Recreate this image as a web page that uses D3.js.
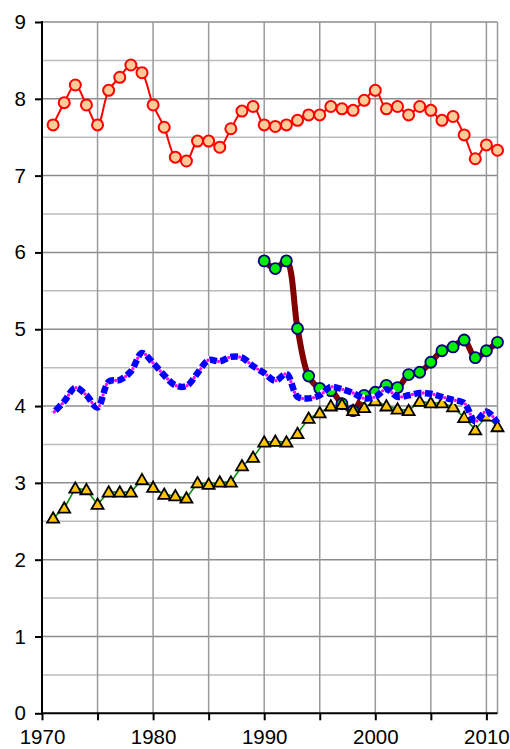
<!DOCTYPE html>
<html>
<head>
<meta charset="utf-8">
<script src="https://cdn.jsdelivr.net/npm/d3@7"></script>
<style>
  body { margin: 0; background: #fff; }
  svg text { font-family: "Liberation Sans", Arial, sans-serif; }
</style>
</head>
<body>
<div id="chart"></div>
<script>
// yearly values
var years = d3.range(1971, 2012);

var redValues = [7.66, 7.95, 8.18, 7.92, 7.66, 8.11, 8.28, 8.44, 8.34, 7.92,
  7.63, 7.24, 7.19, 7.45, 7.45, 7.37, 7.61, 7.84, 7.90, 7.66,
  7.64, 7.66, 7.72, 7.79, 7.79, 7.90, 7.87, 7.85, 7.98, 8.11,
  7.87, 7.90, 7.79, 7.90, 7.85, 7.72, 7.77, 7.53, 7.22, 7.40, 7.33];

var blueValues = [3.91, 4.06, 4.24, 4.14, 3.98, 4.32, 4.34, 4.45, 4.69, 4.56,
  4.40, 4.27, 4.26, 4.43, 4.60, 4.58, 4.64, 4.63, 4.52, 4.43,
  4.33, 4.42, 4.12, 4.10, 4.14, 4.25, 4.22, 4.17, 4.10, 4.12,
  4.22, 4.12, 4.14, 4.17, 4.16, 4.12, 4.08, 4.04, 3.80, 3.93, 3.78];

var triangleValues = [2.54, 2.67, 2.93, 2.91, 2.72, 2.88, 2.88, 2.88, 3.04, 2.94,
  2.85, 2.83, 2.80, 3.00, 2.98, 3.01, 3.01, 3.22, 3.33, 3.53,
  3.54, 3.53, 3.64, 3.84, 3.91, 4.00, 4.02, 3.94, 3.98, 4.07,
  4.00, 3.96, 3.94, 4.06, 4.04, 4.04, 3.99, 3.85, 3.69, 3.87, 3.73];

var greenYears = d3.range(1990, 2012);
var greenValues = [5.89, 5.79, 5.89, 5.01, 4.39, 4.23, 4.20, 4.03, 3.94, 4.14,
  4.18, 4.27, 4.24, 4.41, 4.44, 4.57, 4.72, 4.77, 4.86, 4.63, 4.72, 4.83];

var yTicks = [0, 1, 2, 3, 4, 5, 6, 7, 8, 9];
var yMinor = [0.5, 1.5, 2.5, 3.5, 4.5, 5.5, 6.5, 7.5, 8.5];
var xTicks = [1970, 1975, 1980, 1985, 1990, 1995, 2000, 2005, 2010];

var W = 510, H = 749;
var plot = { left: 42, right: 497.5, top: 22, bottom: 713.3 };

var svg = d3.select("#chart").append("svg")
  .attr("width", W)
  .attr("height", H);

var x = d3.scaleLinear().domain([1970, 2011]).range([plot.left, plot.right]);
var y = d3.scaleLinear().domain([0, 9]).range([plot.bottom, plot.top]);

// grid
svg.append("g").selectAll("line")
  .data(yMinor)
  .enter().append("line")
  .attr("x1", plot.left).attr("x2", plot.right)
  .attr("y1", d => y(d)).attr("y2", d => y(d))
  .attr("stroke", "#bdbdbd").attr("stroke-width", 1.5);

svg.append("g").selectAll("line")
  .data(yTicks.slice(1))
  .enter().append("line")
  .attr("x1", plot.left).attr("x2", plot.right)
  .attr("y1", d => y(d)).attr("y2", d => y(d))
  .attr("stroke", "#8c8c8c").attr("stroke-width", 1.5);

svg.append("g").selectAll("line")
  .data(xTicks.slice(1).concat([2011]))
  .enter().append("line")
  .attr("x1", d => x(d)).attr("x2", d => x(d))
  .attr("y1", plot.top).attr("y2", plot.bottom)
  .attr("stroke", "#9a9a9a").attr("stroke-width", 1.5);

// axes
var yAxis = svg.append("g")
  .attr("transform", "translate(" + plot.left + ",0)")
  .call(d3.axisLeft(y).tickValues(yTicks).tickSize(7).tickPadding(9).tickFormat(d3.format("d")));

var xAxis = svg.append("g")
  .attr("transform", "translate(0," + plot.bottom + ")")
  .call(d3.axisBottom(x).tickValues(xTicks).tickSize(7).tickPadding(9)
    .tickFormat(d => d % 10 == 0 ? d : ""));

svg.selectAll(".domain").remove();
[yAxis, xAxis].forEach(function (a) {
  a.selectAll("line").attr("stroke", "#000").attr("stroke-width", 2);
  a.selectAll("text").attr("fill", "#000").style("font-size", "20.5px");
});
svg.append("line")
  .attr("x1", plot.left).attr("x2", plot.left).attr("y1", plot.top - 1).attr("y2", plot.bottom + 1)
  .attr("stroke", "#000").attr("stroke-width", 2);
svg.append("line")
  .attr("x1", plot.left - 1).attr("x2", plot.right).attr("y1", plot.bottom).attr("y2", plot.bottom)
  .attr("stroke", "#000").attr("stroke-width", 2);

var smooth = d3.line()
  .x(d => x(d[0])).y(d => y(d[1]))
  .curve(d3.curveCatmullRom.alpha(0.5));
var straight = d3.line()
  .x(d => x(d[0])).y(d => y(d[1]));

var red = d3.zip(years, redValues);
var blue = d3.zip(years, blueValues);
var tri = d3.zip(years, triangleValues);
var green = d3.zip(greenYears, greenValues);

// yellow triangles, thin green line
svg.append("path").datum(tri)
  .attr("d", straight)
  .attr("fill", "none").attr("stroke", "#0a8a0a").attr("stroke-width", 1.6);

// maroon line with green circles
svg.append("path").datum(green)
  .attr("d", smooth)
  .attr("fill", "none").attr("stroke", "#800000").attr("stroke-width", 6);

svg.append("g").selectAll("circle")
  .data(green)
  .enter().append("circle")
  .attr("cx", d => x(d[0])).attr("cy", d => y(d[1]))
  .attr("r", 5.5)
  .attr("fill", "#00ee00").attr("stroke", "#000080").attr("stroke-width", 1.8);

var triangle = d3.symbol().type(d3.symbolTriangle).size(62);
svg.append("g").selectAll("path")
  .data(tri)
  .enter().append("path")
  .attr("d", triangle)
  .attr("transform", d => "translate(" + x(d[0]) + "," + (y(d[1]) + 1) + ")")
  .attr("fill", "#ffc400").attr("stroke", "#000").attr("stroke-width", 1.8)
  .attr("stroke-linejoin", "miter");

// blue dashed line with magenta dots on it
svg.append("path").datum(blue)
  .attr("d", smooth)
  .attr("fill", "none").attr("stroke", "#0000ff").attr("stroke-width", 6.5);
svg.append("path").datum(blue)
  .attr("d", smooth)
  .attr("fill", "none").attr("stroke", "#fff").attr("stroke-width", 7.5)
  .attr("stroke-dasharray", "3.5,7.5");
svg.append("path").datum(blue)
  .attr("d", smooth)
  .attr("fill", "none").attr("stroke", "#ff00ff").attr("stroke-width", 3.4)
  .attr("stroke-linecap", "round")
  .attr("stroke-dasharray", "0,11").attr("stroke-dashoffset", -1.75);

// red line with light circles
svg.append("path").datum(red)
  .attr("d", smooth)
  .attr("fill", "none").attr("stroke", "#ff0000").attr("stroke-width", 2);

svg.append("g").selectAll("circle")
  .data(red)
  .enter().append("circle")
  .attr("cx", d => x(d[0])).attr("cy", d => y(d[1]))
  .attr("r", 5.5)
  .attr("fill", "#ffcc99").attr("stroke", "#ff0000").attr("stroke-width", 2);
</script>
</body>
</html>
